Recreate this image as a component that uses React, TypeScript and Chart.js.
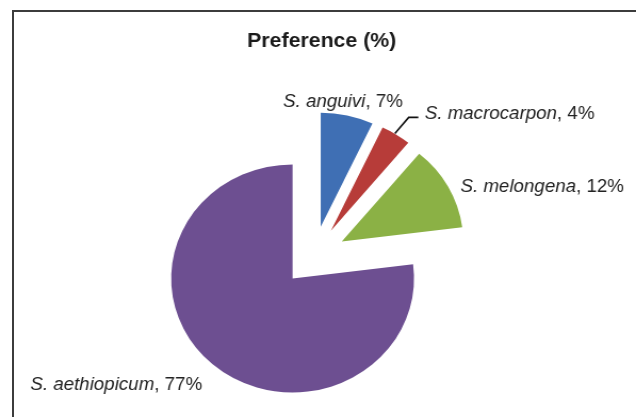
import { useEffect, useRef } from "react";
import { Chart, registerables } from "chart.js";

Chart.register(...registerables);

const categories = ["S. anguivi", "S. macrocarpon", "S. melongena", "S. aethiopicum"];
const preference = [7, 4, 12, 77];
const titleText = "Preference (%)";
const sliceColors = ["#3F6FB4", "#B73C39", "#8BB145", "#6D4F91"];

const PAGE_W = 636;
const PAGE_H = 417;
const CW = 597;
const SX = PAGE_W / CW;
const FONT = '"Liberation Sans", Arial, Helvetica, sans-serif';
const LABEL_SIZE = 17.6;
const EXPLODE = 30; // pixel displacement of every slice along its mid angle

// label placement relative to the outer midpoint of each slice (layout only)
const labelLayout = [
  { dx: -4, dy: -8.5, align: "center", leader: false },
  { dx: 27, dy: -15.5, align: "left", leader: true },
  { dx: 11.5, dy: 5.5, align: "left", leader: false },
  { dx: -9.5, dy: 25.5, align: "right", leader: false },
];

const explodePlugin = {
  id: "explodeAll",
  afterDatasetUpdate(chart: any, args: any) {
    const meta = chart.getDatasetMeta(args.index);
    meta.data.forEach((arc: any) => {
      const mid = (arc.startAngle + arc.endAngle) / 2;
      arc.x += EXPLODE * Math.cos(mid);
      arc.y += EXPLODE * Math.sin(mid);
    });
  },
};

const labelPlugin = {
  id: "pieLabels",
  afterDatasetsDraw(chart: any) {
    const ctx = chart.ctx as CanvasRenderingContext2D;
    ctx.save();
    ctx.fillStyle = "#1a1a1a";
    ctx.font = `bold 20px ${FONT}`;
    ctx.textAlign = "center";
    ctx.textBaseline = "alphabetic";
    ctx.fillText(titleText, 302, 47);

    const meta = chart.getDatasetMeta(0);
    const total = preference.reduce((a, b) => a + b, 0);
    meta.data.forEach((arc: any, i: number) => {
      const mid = (arc.startAngle + arc.endAngle) / 2;
      const px = arc.x + arc.outerRadius * Math.cos(mid);
      const py = arc.y + arc.outerRadius * Math.sin(mid);
      const lay = labelLayout[i];
      const name = categories[i];
      const pct = `, ${Math.round((preference[i] / total) * 100)}%`;
      ctx.font = `italic ${LABEL_SIZE}px ${FONT}`;
      const w1 = ctx.measureText(name).width;
      ctx.font = `${LABEL_SIZE}px ${FONT}`;
      const w2 = ctx.measureText(pct).width;
      const tw = w1 + w2;
      let x = px + lay.dx;
      if (lay.align === "center") x -= tw / 2;
      else if (lay.align === "right") x -= tw;
      const y = py + lay.dy;
      ctx.textAlign = "left";
      ctx.fillStyle = "#222222";
      ctx.font = `italic ${LABEL_SIZE}px ${FONT}`;
      ctx.fillText(name, x, y);
      ctx.font = `${LABEL_SIZE}px ${FONT}`;
      ctx.fillText(pct, x + w1, y);
      if (lay.leader) {
        ctx.strokeStyle = "#111111";
        ctx.lineWidth = 1.6;
        ctx.beginPath();
        ctx.moveTo(px - 1, py - 1);
        ctx.lineTo(px + 12, py - 17);
        ctx.lineTo(px + 21, py - 17);
        ctx.stroke();
      }
    });
    ctx.restore();
  },
};

export default function App() {
  const ref = useRef<HTMLCanvasElement | null>(null);
  useEffect(() => {
    document.body.style.margin = "0";
    if (!ref.current) return;
    const chart = new Chart(ref.current, {
      type: "pie",
      data: {
        labels: categories,
        datasets: [
          {
            data: preference,
            backgroundColor: sliceColors,
            borderWidth: 0,
            radius: 114,
            clip: false,
          } as any,
        ],
      },
      options: {
        animation: false,
        responsive: false,
        devicePixelRatio: 1,
        layout: { padding: { left: 40, right: 48, top: 120, bottom: 25 } },
        plugins: {
          legend: { display: false },
          title: { display: false },
          tooltip: { enabled: false },
        },
      } as any,
      plugins: [explodePlugin, labelPlugin],
    });
    return () => chart.destroy();
  }, []);
  return (
    <div style={{ position: "absolute", left: 0, top: 0, width: PAGE_W, height: PAGE_H, overflow: "hidden", background: "#fff" }}>
      <div
        style={{
          position: "absolute",
          left: 12,
          top: 10,
          width: 700,
          height: 500,
          borderLeft: "2px solid #3c3c3c",
          borderTop: "2px solid #3c3c3c",
        }}
      />
      <canvas
        ref={ref}
        width={CW}
        height={PAGE_H}
        style={{
          position: "absolute",
          left: 0,
          top: 0,
          width: CW,
          height: PAGE_H,
          transform: `scaleX(${SX})`,
          transformOrigin: "0 0",
        }}
      />
    </div>
  );
}
